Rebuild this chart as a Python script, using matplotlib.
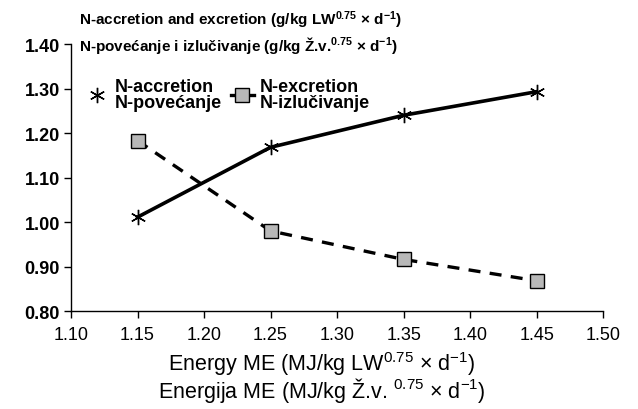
import matplotlib.pyplot as plt
from matplotlib.lines import Line2D

plt.rcParams['font.family'] = ['Liberation Sans', 'DejaVu Sans']
plt.rcParams['mathtext.fontset'] = 'custom'
plt.rcParams['mathtext.rm'] = 'Liberation Sans'
plt.rcParams['mathtext.bf'] = 'Liberation Sans:bold'
plt.rcParams['mathtext.default'] = 'regular'

# energija ME (x) i N vrijednosti (y)
energy = [1.15, 1.25, 1.35, 1.45]
accretion = [1.011, 1.168, 1.240, 1.293]
excretion = [1.183, 0.980, 0.916, 0.868]

xticks = [1.10, 1.15, 1.20, 1.25, 1.30, 1.35, 1.40, 1.45, 1.50]
yticks = [0.80, 0.90, 1.00, 1.10, 1.20, 1.30, 1.40]

fig = plt.figure(figsize=(6.38, 4.10), dpi=100)
ax = fig.add_axes([0.1113, 0.239, 0.834, 0.651])

asterisk = (6, 2, 0)
dash = (0, (3.6, 2.8))
ax.plot(energy, accretion, color='black', lw=2.6, marker=asterisk,
        markersize=11, markeredgewidth=1.0, markeredgecolor='black', zorder=3)
ax.plot(energy, excretion, color='black', lw=2.4, linestyle=dash,
        marker='s', markersize=9.5, markerfacecolor='#b8b8b8',
        markeredgecolor='black', markeredgewidth=1.0, zorder=3)

ax.set_xlim(1.10, 1.50)
ax.set_ylim(0.80, 1.40)
ax.set_xticks(xticks)
ax.set_xticklabels(['%.2f' % v for v in xticks], fontsize=13)
ax.set_yticks(yticks)
ax.set_yticklabels(['%.2f' % v for v in yticks], fontsize=13, fontweight='bold')
ax.tick_params(axis='both', direction='out', length=5, width=1.0, color='black')
ax.tick_params(axis='x', pad=6)
ax.tick_params(axis='y', pad=3)

for s in ['top', 'right']:
    ax.spines[s].set_visible(False)
for s in ['left', 'bottom']:
    ax.spines[s].set_linewidth(1.0)

# naslov osi x u dva reda
fig.text(322 / 638, 1 - 371 / 410, 'Energy ME (MJ/kg LW$^{0.75}$ × d$^{-1}$)',
         fontsize=15.5, ha='center', va='baseline')
fig.text(322 / 638, 1 - 398 / 410, 'Energija ME (MJ/kg Ž.v. $^{0.75}$ × d$^{-1}$)',
         fontsize=15.5, ha='center', va='baseline')

fig.text(79 / 638, 1 - 20 / 410,
         'N-accretion and excretion (g/kg LW$^{0.75}$ × d$^{-1}$)',
         fontsize=11, fontweight='bold', va='center', ha='left')
fig.text(79 / 638, 1 - 45 / 410,
         'N-povećanje i izlučivanje (g/kg Ž.v.$^{0.75}$ × d$^{-1}$)',
         fontsize=11, fontweight='bold', va='center', ha='left')

handles = [
    Line2D([], [], color='black', lw=0, marker=asterisk, markersize=11,
           markeredgewidth=1.0),
    Line2D([], [], color='black', lw=2.4, linestyle='-', marker='s',
           markersize=9.5, markerfacecolor='#b8b8b8', markeredgecolor='black'),
]
labels = ['N-accretion\nN-povećanje', 'N-excretion\nN-izlučivanje']
leg = ax.legend(handles, labels, ncol=2, frameon=False, loc='upper left',
                bbox_to_anchor=(-0.003, 0.934), handlelength=1.3,
                handletextpad=0.3, columnspacing=0.5,
                prop={'size': 13, 'weight': 'bold'}, labelspacing=0.2)
for t in leg.get_texts():
    t.set_linespacing(0.95)

fig.savefig('out.png', dpi=100)
